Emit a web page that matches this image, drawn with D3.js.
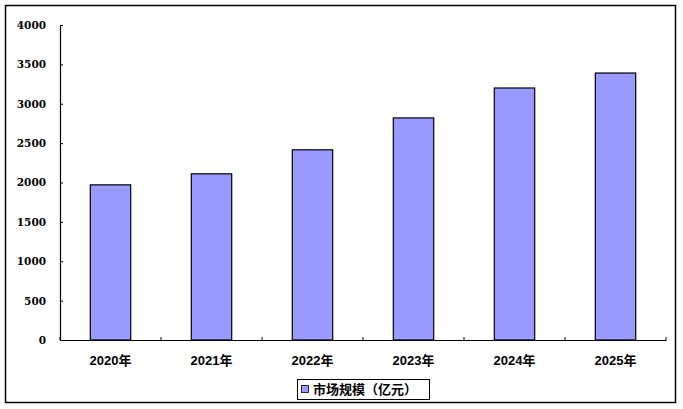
<!DOCTYPE html>
<html>
<head>
<meta charset="utf-8">
<script src="https://cdn.jsdelivr.net/npm/d3@7"></script>
<style>
  body { margin: 0; background: #fff; }
</style>
</head>
<body>
<div id="chart"></div>
<script>
// chart data
const years = ["2020年", "2021年", "2022年", "2023年", "2024年", "2025年"];
const marketSize = [1970, 2110, 2415, 2820, 3200, 3390];
const yTicks = [0, 500, 1000, 1500, 2000, 2500, 3000, 3500, 4000];
const seriesName = "市场规模（亿元）";

const width = 683;
const height = 409;
const plot = {left: 60, right: 666, top: 25, bottom: 340};
const barColor = "#9999FF";

let data = years.map(function(d, i) { return {year: d, value: marketSize[i]}; });

let svg = d3.select("#chart")
            .append("svg")
            .attr("width", width)
            .attr("height", height);

// outer frame
svg.append("rect")
    .attr("x", 5.5)
    .attr("y", 5.5)
    .attr("width", 670)
    .attr("height", 397)
    .attr("fill", "none")
    .attr("stroke", "#000")
    .attr("stroke-width", 1.5);

let xScale = d3.scaleBand()
            .domain(years)
            .range([plot.left, plot.right]);

let yScale = d3.scaleLinear()
            .domain([0, 4000])
            .range([plot.bottom, plot.top]);

// bars
let bw = xScale.bandwidth() * 0.4;
svg.append("g").selectAll("rect")
    .data(data)
    .enter()
    .append("rect")
    .attr("x", function(d) { return xScale(d.year) + (xScale.bandwidth() - bw) / 2; })
    .attr("y", function(d) { return yScale(d.value); })
    .attr("width", bw)
    .attr("height", function(d) { return yScale(0) - yScale(d.value); })
    .attr("fill", barColor)
    .attr("stroke", "#000")
    .attr("stroke-width", 1.2);

// y axis, ticks pointing inwards
let yAxis = svg.append("g")
    .attr("transform", "translate(" + plot.left + ",0)")
    .call(d3.axisLeft(yScale).tickValues(yTicks).tickFormat(d3.format("d"))
        .tickSize(-3).tickPadding(14).tickSizeOuter(0));
yAxis.select(".domain").attr("stroke-width", 1.2);
yAxis.selectAll("text")
    .style("font-family", "'DejaVu Serif', serif")
    .style("font-weight", "bold")
    .style("font-size", "10.5px")
    .attr("fill", "#000");

// x axis with labels, boundary ticks drawn separately
let xAxis = svg.append("g")
    .attr("transform", "translate(0," + plot.bottom + ")")
    .call(d3.axisBottom(xScale).tickSize(0).tickPadding(16).tickSizeOuter(0));
xAxis.select(".domain").attr("stroke-width", 1.2);
xAxis.selectAll("text")
    .style("font-family", "'Liberation Sans', 'Noto Sans CJK SC', sans-serif")
    .style("font-weight", "bold")
    .style("font-size", "13px")
    .attr("fill", "#000");

let bounds = years.map(function(d) { return xScale(d); }).concat([xScale(years[years.length - 1]) + xScale.bandwidth()]);
svg.append("g").selectAll("line")
    .data(bounds)
    .enter()
    .append("line")
    .attr("x1", function(d) { return d; })
    .attr("x2", function(d) { return d; })
    .attr("y1", plot.bottom)
    .attr("y2", plot.bottom - 3)
    .attr("stroke", "#000");

// legend
let legend = svg.append("g").attr("transform", "translate(297,379)");
legend.append("rect")
    .attr("x", 0.5)
    .attr("y", 0.5)
    .attr("width", 132)
    .attr("height", 20)
    .attr("fill", "#fff")
    .attr("stroke", "#000");
legend.append("rect")
    .attr("x", 4.5)
    .attr("y", 6.5)
    .attr("width", 7)
    .attr("height", 7)
    .attr("fill", barColor)
    .attr("stroke", "#000")
    .attr("stroke-width", 0.8);
legend.append("text")
    .attr("x", 16)
    .attr("y", 15)
    .style("font-family", "'Noto Sans CJK SC', sans-serif")
    .style("font-weight", "bold")
    .style("font-size", "13px")
    .text(seriesName);
</script>
</body>
</html>
